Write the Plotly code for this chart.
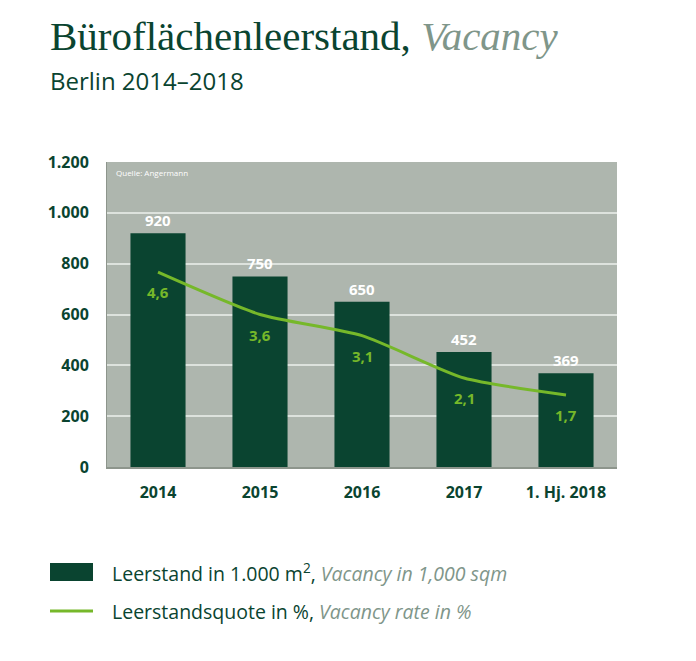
"""
Büroflächenleerstand Berlin 2014-2018
Bar chart (vacancy in 1,000 sqm) with vacancy rate line on a hidden second axis
"""

import plotly.graph_objects as go

# -----------------------------------------
# DATA
# -----------------------------------------
categories = ["2014", "2015", "2016", "2017", "1. Hj. 2018"]
leerstand = [920, 750, 650, 452, 369]          # 1.000 m²
quote = [4.6, 3.6, 3.1, 2.1, 1.7]              # %
y_ticks = [0, 200, 400, 600, 800, 1000, 1200]

# -----------------------------------------
# STYLE
# -----------------------------------------
DARK = "#0a4430"
GREY_TXT = "#7f968a"
LIME = "#76b82a"
PLOT_BG = "#aeb6ae"
GRID = "#dde2dd"
SANS = "Open Sans"
SERIF = "Liberation Serif"

W, H = 696, 661
L, R, T, B = 107, 79, 162, 194
PW, PH = W - L - R, H - T - B


def px(x):
    # pixel x -> paper x
    return (x - L) / PW


def py(y):
    # pixel y -> paper y
    return (H - B - y) / PH


fig = go.Figure()

# Bars
fig.add_trace(go.Bar(
    x=categories,
    y=leerstand,
    marker=dict(color=DARK, line=dict(width=0)),
    width=0.54,
    text=[str(v) for v in leerstand],
    textposition="outside",
    textfont=dict(family=SANS, size=15, color="white", weight="bold"),
    cliponaxis=False,
    name="Leerstand",
))

# Vacancy rate line
fig.add_trace(go.Scatter(
    x=categories,
    y=quote,
    yaxis="y2",
    mode="lines",
    line=dict(color=LIME, width=3, shape="spline", smoothing=0.6),
    name="Leerstandsquote",
))

# Rate labels below each line point
# (category index as x: "2014" alone would be read as position 2014)
annotations = []
for i, q in enumerate(quote):
    annotations.append(dict(
        x=i, y=q, xref="x", yref="y2",
        text=f"{q:.1f}".replace(".", ","),
        showarrow=False, yshift=-20,
        font=dict(family=SANS, size=15, color=LIME, weight="bold"),
    ))

# Title + subtitle
annotations.append(dict(
    x=px(48), y=py(36), xref="paper", yref="paper",
    xanchor="left", yanchor="middle", showarrow=False,
    text=f"Büroflächenleerstand, <i><span style='color:{GREY_TXT}'>Vacancy</span></i>",
    font=dict(family=SERIF, size=41, color=DARK),
))
annotations.append(dict(
    x=px(48), y=py(81), xref="paper", yref="paper",
    xanchor="left", yanchor="middle", showarrow=False,
    text="Berlin 2014–2018",
    font=dict(family=SANS, size=24, color=DARK),
))

# Source
annotations.append(dict(
    x=px(114), y=py(172), xref="paper", yref="paper",
    xanchor="left", yanchor="middle", showarrow=False,
    text="Quelle: Angermann",
    font=dict(family=SANS, size=8, color="white"),
))

# Custom legend
annotations.append(dict(
    x=px(110), y=py(572), xref="paper", yref="paper",
    xanchor="left", yanchor="middle", showarrow=False,
    text=f"Leerstand in 1.000 m<sup>2</sup>, <i><span style='color:{GREY_TXT}'>Vacancy in 1,000 sqm</span></i>",
    font=dict(family=SANS, size=19.5, color=DARK),
))
annotations.append(dict(
    x=px(110), y=py(611), xref="paper", yref="paper",
    xanchor="left", yanchor="middle", showarrow=False,
    text=f"Leerstandsquote in %, <i><span style='color:{GREY_TXT}'>Vacancy rate in %</span></i>",
    font=dict(family=SANS, size=19.5, color=DARK),
))

shapes = [
    dict(type="rect", xref="paper", yref="paper",
         x0=px(50), x1=px(93), y0=py(563), y1=py(581),
         fillcolor=DARK, line=dict(width=0)),
    dict(type="line", xref="paper", yref="paper",
         x0=px(50), x1=px(93), y0=py(611), y1=py(611),
         line=dict(color=LIME, width=3)),
]

fig.update_layout(
    width=W, height=H,
    margin=dict(l=L, r=R, t=T, b=B),
    paper_bgcolor="white",
    plot_bgcolor=PLOT_BG,
    showlegend=False,
    separators=",.",
    annotations=annotations,
    shapes=shapes,
    xaxis=dict(
        type="category",
        categoryorder="array", categoryarray=categories,
        range=[-0.5, len(categories) - 0.5],
        showgrid=False,
        showline=True, linecolor="#8d958c", linewidth=1.5,
        ticks="", ticklabelstandoff=10,
        tickfont=dict(family=SANS, size=16, color=DARK, weight="bold"),
    ),
    yaxis=dict(
        range=[0, 1200],
        tickvals=y_ticks,
        tickformat=",d",
        showgrid=True, gridcolor=GRID, gridwidth=1.5,
        zeroline=False,
        showline=True, linecolor="#8d958c", linewidth=1,
        ticks="", ticklabelstandoff=14,
        tickfont=dict(family=SANS, size=16, color=DARK, weight="bold"),
    ),
    yaxis2=dict(range=[0, 7.2], overlaying="y", side="right", visible=False),
)

# page body has a default 8px margin; drop it so the figure sits at 0,0
fig.write_html("out.html", config={"displayModeBar": False},
               post_script="document.body.style.margin='0';")
